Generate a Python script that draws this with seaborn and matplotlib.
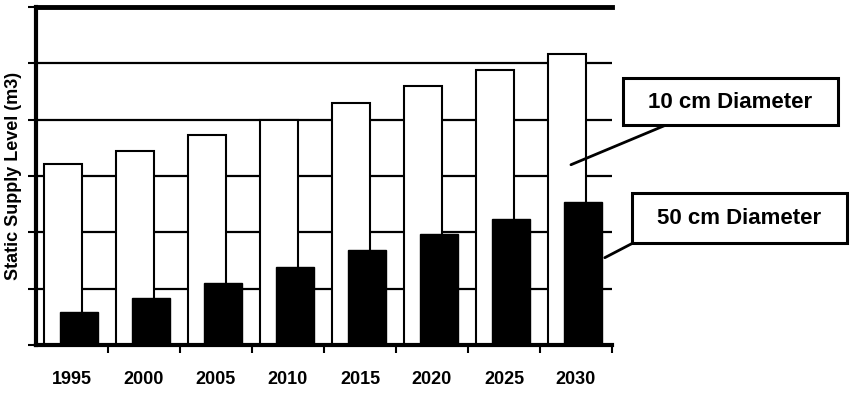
import numpy as np
import pandas as pd
import matplotlib
matplotlib.use('Agg')
import matplotlib.pyplot as plt
import seaborn as sns
from matplotlib.patches import Rectangle

# data (y in gridline units, axis has no value labels)
years = ['1995', '2000', '2005', '2010', '2015', '2020', '2025', '2030']
dia_10cm = [3.21, 3.45, 3.73, 4.00, 4.30, 4.60, 4.88, 5.17]
dia_50cm = [0.59, 0.83, 1.10, 1.39, 1.69, 1.97, 2.24, 2.54]
series_names = ['10 cm Diameter', '50 cm Diameter']

sns.set_style('white')
plt.rcParams['font.family'] = ['Liberation Sans', 'DejaVu Sans']
plt.rcParams['text.color'] = 'black'
plt.rcParams['axes.labelcolor'] = 'black'
plt.rcParams['xtick.color'] = 'black'
plt.rcParams['ytick.color'] = 'black'

W, H = 850, 394
fig = plt.figure(figsize=(W / 100, H / 100), dpi=100)
ax = fig.add_axes([36 / W, 1 - 345 / H, 576 / W, 338 / H])

df = pd.DataFrame({'year': years, 'd10': dia_10cm, 'd50': dia_50cm})

# white (10 cm) bars behind, shifted left
sns.barplot(data=df, x='year', y='d10', color='white', edgecolor='black',
            linewidth=1.5, width=0.53, saturation=1, ax=ax, zorder=2)
n_white = len(ax.patches)
for p in ax.patches:
    p.set_x(p.get_x() - 0.13)

# black (50 cm) bars in front, shifted right
sns.barplot(data=df, x='year', y='d50', color='black', edgecolor='black',
            linewidth=1, width=0.53, saturation=1, ax=ax, zorder=3)
for p in ax.patches[n_white:]:
    p.set_x(p.get_x() + 0.10)

ax.set_xlim(-0.5, 7.5)
ax.set_ylim(0, 6)
ax.set_yticks(range(7))
ax.set_yticklabels([])
ax.yaxis.grid(True, color='black', lw=1.6)
ax.set_axisbelow(True)

ax.tick_params(axis='y', left=True, length=6, width=1.5, color='black')
ax.set_xticks(np.arange(0.5, 8, 1), minor=True)
ax.tick_params(axis='x', which='minor', bottom=True, length=6, width=1.5, color='black')
ax.tick_params(axis='x', which='major', bottom=False, length=0, pad=19)
for lab in ax.get_xticklabels():
    lab.set_fontsize(13)
    lab.set_fontweight('bold')
    lab.set_color('black')

ax.spines['right'].set_visible(False)
ax.spines['top'].set_linewidth(3.5)
ax.spines['left'].set_linewidth(3)
ax.spines['bottom'].set_linewidth(3)
for s in ['top', 'left', 'bottom']:
    ax.spines[s].set_color('black')

ax.set_xlabel('')
ax.set_ylabel('Static Supply Level (m3)', fontsize=13, fontweight='bold', color='black')
ax.yaxis.set_label_coords(-0.024, 0.5)

# callout boxes
boxes = [(623, 78, 215, 47), (632, 193, 215, 50)]
for (bx, by, bw, bh), name in zip(boxes, series_names):
    fig.add_artist(Rectangle((bx / W, 1 - (by + bh) / H), bw / W, bh / H,
                             transform=fig.transFigure, facecolor='white',
                             edgecolor='black', lw=2.2))
    fig.text((bx + bw / 2) / W, 1 - (by + bh / 2 + 1) / H, name,
             ha='center', va='center', fontsize=16, fontweight='bold', color='black')

ax.annotate('', xy=(6.93, 3.2), xycoords='data',
            xytext=(666 / W, 1 - 125 / H), textcoords='figure fraction',
            arrowprops=dict(arrowstyle='-', lw=2, color='black', shrinkA=0, shrinkB=0),
            annotation_clip=False)
ax.annotate('', xy=(7.40, 1.55), xycoords='data',
            xytext=(633 / W, 1 - 243 / H), textcoords='figure fraction',
            arrowprops=dict(arrowstyle='-', lw=2, color='black', shrinkA=0, shrinkB=0),
            annotation_clip=False)

fig.savefig('out.png', dpi=100)
